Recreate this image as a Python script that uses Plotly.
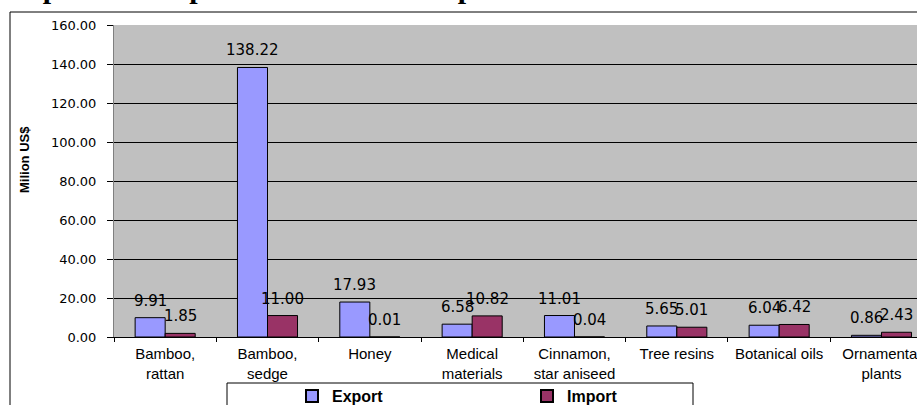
import plotly.graph_objects as go

categories = ["Bamboo,<br>rattan", "Bamboo,<br>sedge", "Honey", "Medical<br>materials",
              "Cinnamon,<br>star aniseed", "Tree resins", "Botanical oils", "Ornamental<br>plants"]
export_vals = [9.91, 138.22, 17.93, 6.58, 11.01, 5.65, 6.04, 0.86]
import_vals = [1.85, 11.00, 0.01, 10.82, 0.04, 5.01, 6.42, 2.43]
y_ticks = [0, 20, 40, 60, 80, 100, 120, 140, 160]
title_text = "Import and export value of NTFPs product"

W, H = 917, 405
L, T, B = 114, 25, 68
pw, ph = W - L, H - T - B

def px_x(x):
    return (x - L) / pw

def px_y(y):
    return (H - B - y) / ph

fig = go.Figure()
fig.add_trace(go.Bar(x=categories, y=export_vals, name="<b>Export</b>",
                     marker=dict(color="#9999FF", line=dict(color="#000000", width=1))))
fig.add_trace(go.Bar(x=categories, y=import_vals, name="<b>Import</b>",
                     marker=dict(color="#993366", line=dict(color="#000000", width=1))))

annotations = []
for c, v in zip(categories, export_vals):
    annotations.append(dict(x=c, y=v, xref="x", yref="y", text=f"{v:.2f}", showarrow=False,
                            xshift=-15, yshift=17, yanchor="middle",
                            font=dict(family="DejaVu Sans", size=15, color="#000000")))
for c, v in zip(categories, import_vals):
    annotations.append(dict(x=c, y=v, xref="x", yref="y", text=f"{v:.2f}", showarrow=False,
                            xshift=15, yshift=17, yanchor="middle",
                            font=dict(family="DejaVu Sans", size=15, color="#000000")))
annotations.append(dict(x=px_x(24), y=px_y(160), xref="paper", yref="paper", text="<b>Milion US$</b>",
                        textangle=-90, showarrow=False, xanchor="center", yanchor="middle",
                        font=dict(family="Liberation Sans", size=13, color="#000000")))
annotations.append(dict(x=px_x(4), y=px_y(6), xref="paper", yref="paper", text="<b>" + title_text + "</b>",
                        showarrow=False, xanchor="left", yanchor="bottom",
                        font=dict(family="Liberation Serif", size=30, color="#000000")))

shapes = [
    dict(type="rect", xref="paper", yref="paper", x0=px_x(10), x1=px_x(1000), y0=px_y(12), y1=px_y(500),
         line=dict(color="#000000", width=1), fillcolor="rgba(0,0,0,0)", layer="below"),
    dict(type="rect", xref="paper", yref="paper", x0=px_x(227), x1=px_x(693), y0=px_y(383), y1=px_y(480),
         line=dict(color="#000000", width=1), fillcolor="#FFFFFF"),
]

fig.update_layout(
    width=W, height=H,
    margin=dict(l=L, r=0, t=T, b=B, pad=0, autoexpand=False),
    paper_bgcolor="#FFFFFF", plot_bgcolor="#C0C0C0",
    barmode="group", bargap=0.413, bargroupgap=0,
    showlegend=True,
    legend=dict(orientation="h", x=292 / W, y=1 - 396 / H, xref="container", yref="container",
                xanchor="left", yanchor="middle",
                bgcolor="rgba(0,0,0,0)", borderwidth=0, entrywidth=190,
                font=dict(family="Liberation Sans", size=16, color="#000000"),
                itemsizing="constant"),
    annotations=annotations, shapes=shapes,
    xaxis=dict(type="category", range=[-0.5, 7.347], tickson="boundaries",
               ticks="outside", ticklen=4, tickcolor="#000000",
               showline=True, linecolor="#000000", linewidth=1,
               showgrid=False, zeroline=False, automargin=False,
               tickfont=dict(family="Liberation Sans", size=15, color="#000000"),
               ticklabelstandoff=3),
    yaxis=dict(range=[0, 160], tickvals=y_ticks, tickformat=".2f",
               ticks="outside", ticklen=6, tickcolor="#000000",
               showline=True, linecolor="#808080", linewidth=1, mirror=True,
               showgrid=True, gridcolor="#000000", gridwidth=1, zeroline=False, automargin=False,
               tickfont=dict(family="DejaVu Sans", size=13, color="#000000"),
               ticklabelstandoff=8),
)

fig.write_html("out.html")
